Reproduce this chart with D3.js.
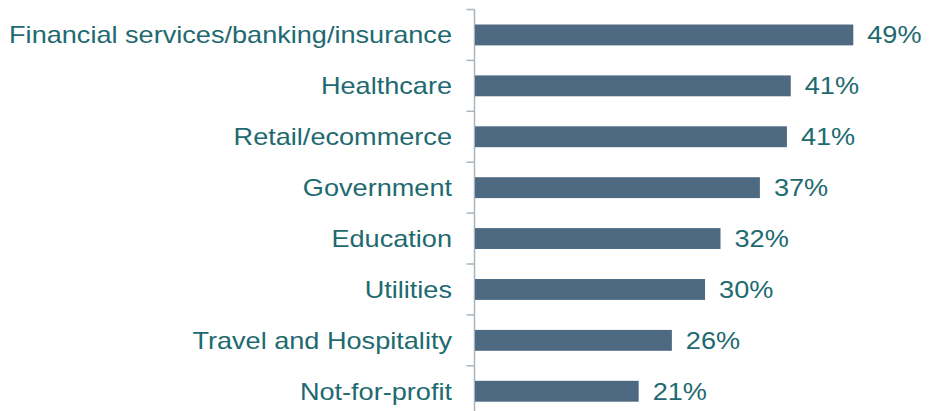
<!DOCTYPE html>
<html>
<head>
<meta charset="utf-8">
<script src="https://cdn.jsdelivr.net/npm/d3@7"></script>
<style>
    body { margin: 0; background: #fff; }
    text { font-family: "Liberation Sans", Arial, sans-serif; }
</style>
</head>
<body>
<svg width="931" height="411"></svg>
<script>
const categories = [
    "Financial services/banking/insurance",
    "Healthcare",
    "Retail/ecommerce",
    "Government",
    "Education",
    "Utilities",
    "Travel and Hospitality",
    "Not-for-profit"
];
const values = [49, 40.9, 40.4, 36.9, 31.8, 29.8, 25.5, 21.2];
const valueLabels = ["49%", "41%", "41%", "37%", "32%", "30%", "26%", "21%"];

const svg = d3.select("svg");
const margin = { top: 9.5, left: 475 };
const stretch = 1.13;

const data = categories.map((c, i) => ({ name: c, value: values[i], label: valueLabels[i] }));

const x = d3.scaleLinear().domain([0, 49]).range([0, 378.3]);
const y = d3.scaleBand().domain(categories).range([0, 407.2]).paddingInner(0.59).paddingOuter(0.295);
const band = y.step();

const g = svg.append("g").attr("transform", `translate(${margin.left},${margin.top})`);

// axis line + ticks at band boundaries
g.append("line")
    .attr("x1", -0.5).attr("x2", -0.5)
    .attr("y1", 0).attr("y2", 420)
    .attr("stroke", "#a7b6bd").attr("stroke-width", 1.5);

g.selectAll(".tick")
    .data(categories)
    .enter()
    .append("line")
    .attr("class", "tick")
    .attr("x1", -8.5).attr("x2", -0.5)
    .attr("y1", (d, i) => i * band)
    .attr("y2", (d, i) => i * band)
    .attr("stroke", "#a7b6bd").attr("stroke-width", 1.5);

g.selectAll(".bar")
    .data(data)
    .enter()
    .append("rect")
    .attr("class", "bar")
    .attr("x", 0)
    .attr("y", d => y(d.name))
    .attr("width", d => x(d.value))
    .attr("height", y.bandwidth())
    .attr("fill", "#4d6a82");

g.selectAll(".cat")
    .data(data)
    .enter()
    .append("text")
    .attr("class", "cat")
    .attr("transform", d => `translate(-23,${y(d.name) + y.bandwidth() / 2}) scale(${stretch},1)`)
    .attr("dy", "0.35em")
    .attr("text-anchor", "end")
    .attr("font-size", 24)
    .attr("fill", "#1e6a70")
    .text(d => d.name);

g.selectAll(".val")
    .data(data)
    .enter()
    .append("text")
    .attr("class", "val")
    .attr("transform", d => `translate(${x(d.value) + 14},${y(d.name) + y.bandwidth() / 2}) scale(${stretch},1)`)
    .attr("dy", "0.35em")
    .attr("font-size", 24)
    .attr("fill", "#1e6a70")
    .text(d => d.label);
</script>
</body>
</html>
